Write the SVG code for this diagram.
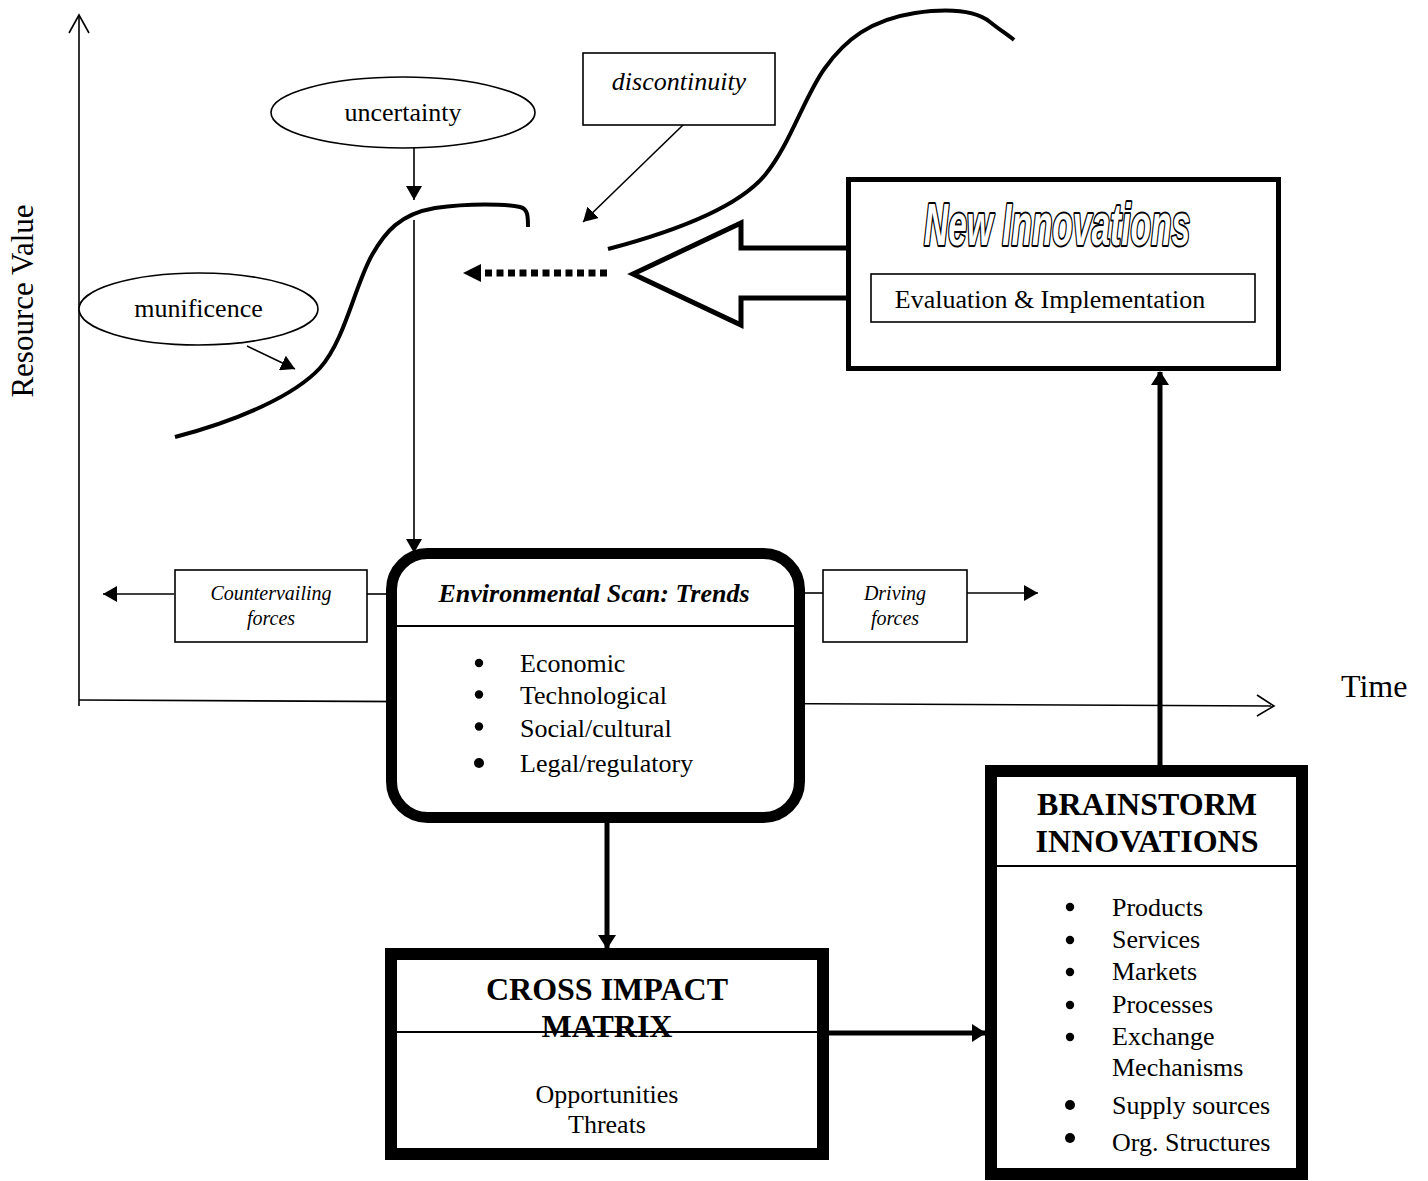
<svg xmlns="http://www.w3.org/2000/svg" width="1428" height="1181" viewBox="0 0 1428 1181">
<defs>
<style>
text{font-family:"Liberation Serif","Times New Roman",serif;fill:#000}
.t26{font-size:26px}
.t20{font-size:20px;font-style:italic}
.tb{font-size:32px;font-weight:bold}
.thin{fill:none;stroke:#000;stroke-width:1.6}
.box{fill:#fff;stroke:#000;stroke-width:1.6}
.heavy{fill:#fff;stroke:#000;stroke-width:12}
.curve{fill:none;stroke:#000;stroke-width:4}
.conn{fill:none;stroke:#000;stroke-width:1.6}
.connT{fill:none;stroke:#000;stroke-width:5}
.div{stroke:#000;stroke-width:2}
.hollow{font-family:"Liberation Sans","DejaVu Sans",sans-serif;font-size:60px;font-weight:bold;font-style:italic;fill:#fff;stroke:#000;stroke-width:4;paint-order:stroke;stroke-linejoin:round}
</style>
<marker id="arr" viewBox="0 0 14 16" markerWidth="14" markerHeight="16" refX="14" refY="8" orient="auto" markerUnits="userSpaceOnUse"><path d="M0,0 L14,8 L0,16 z" fill="#000"/></marker>
<marker id="arrT" viewBox="0 0 14 18" markerWidth="14" markerHeight="18" refX="13" refY="9" orient="auto" markerUnits="userSpaceOnUse"><path d="M0,0 L14,9 L0,18 z" fill="#000"/></marker>
</defs>

<g id="axes">
<line x1="79" y1="16" x2="79" y2="706" class="thin"/>
<polyline points="69,33 79,15 89,33" class="thin"/>
<line x1="79" y1="700" x2="1273" y2="706" class="thin"/>
<polyline points="1257,695 1274,706 1257,716" class="thin"/>
<text id="ylabel" style="font-size:31px" transform="translate(33,301) rotate(-90)" text-anchor="middle">Resource Value</text>
<text id="xlabel" style="font-size:32px" x="1341" y="697">Time</text>
</g>

<g id="curves">
<path class="curve" d="M175,437 C240,420 295,395 320,368 C345,340 355,285 372,255 C385,232 400,214 435,208 C470,203 505,204 520,207 C528,209 528,216 528,227"/>
<path class="curve" d="M608,249 C680,230 740,205 765,175 C790,145 805,95 825,68 C845,40 870,20 915,13 C950,8 975,10 990,22 C1000,30 1008,35 1014,40"/>
</g>

<g id="uncertainty">
<ellipse cx="403" cy="112.5" rx="132" ry="35.5" class="box"/>
<text class="t26" x="403" y="121" text-anchor="middle">uncertainty</text>
</g>

<g id="munificence">
<ellipse cx="198.5" cy="309" rx="119.5" ry="36" class="box"/>
<text class="t26" x="198.5" y="317" text-anchor="middle">munificence</text>
</g>

<g id="discontinuity">
<rect x="583" y="53" width="192" height="72" class="box"/>
<text class="t26" style="font-style:italic" x="679" y="90" text-anchor="middle">discontinuity</text>
</g>

<g id="new-innovations">
<path d="M846,248 L741,248 L741,223 L633,274 L741,325 L741,298 L846,298" fill="#fff" stroke="#000" stroke-width="5"/>
<rect x="848.5" y="179.5" width="430" height="189" fill="#fff" stroke="#000" stroke-width="5"/>
<text class="hollow" x="1057" y="245" text-anchor="middle" textLength="266" lengthAdjust="spacingAndGlyphs">New Innovations</text>
<rect x="871" y="274" width="384" height="48" class="box"/>
<text class="t26" x="1050" y="308" text-anchor="middle">Evaluation &amp; Implementation</text>
</g>

<g id="countervailing">
<rect x="175" y="570" width="192" height="72" class="box"/>
<text class="t20" x="271" y="600" text-anchor="middle">Countervailing</text>
<text class="t20" x="271" y="625" text-anchor="middle">forces</text>
</g>

<g id="driving">
<rect x="823" y="570" width="144" height="72" class="box"/>
<text class="t20" x="895" y="600" text-anchor="middle">Driving</text>
<text class="t20" x="895" y="625" text-anchor="middle">forces</text>
</g>

<g id="env-scan">
<rect x="391.5" y="553.5" width="408" height="264" rx="36" ry="36" fill="#fff" stroke="#000" stroke-width="11"/>
<line x1="397" y1="626" x2="794" y2="626" class="div"/>
<text class="t26" style="font-weight:bold;font-style:italic" x="594" y="602" text-anchor="middle">Environmental Scan: Trends</text>
<circle cx="479" cy="663" r="4.2"/>
<circle cx="479" cy="694.5" r="4.2"/>
<circle cx="479" cy="726.5" r="4.2"/>
<circle cx="479" cy="763" r="5"/>
<text class="t26" x="520" y="672">Economic</text>
<text class="t26" x="520" y="704">Technological</text>
<text class="t26" x="520" y="737">Social/cultural</text>
<text class="t26" x="520" y="772">Legal/regulatory</text>
</g>

<g id="cross-impact">
<rect x="391" y="954" width="432" height="200" class="heavy"/>
<line x1="397" y1="1032" x2="817" y2="1032" class="div"/>
<text class="tb" x="607" y="1000" text-anchor="middle">CROSS IMPACT</text>
<text class="tb" x="607" y="1037" text-anchor="middle">MATRIX</text>
<text class="t26" x="607" y="1103" text-anchor="middle">Opportunities</text>
<text class="t26" x="607" y="1133" text-anchor="middle">Threats</text>
</g>

<g id="brainstorm">
<rect x="991" y="771" width="311" height="403" class="heavy"/>
<line x1="997" y1="866" x2="1296" y2="866" class="div"/>
<text class="tb" x="1147" y="815" text-anchor="middle">BRAINSTORM</text>
<text class="tb" x="1147" y="852" text-anchor="middle">INNOVATIONS</text>
<circle cx="1070" cy="907" r="4.2"/>
<circle cx="1070" cy="940" r="4.2"/>
<circle cx="1070" cy="972" r="4.2"/>
<circle cx="1070" cy="1005" r="4.2"/>
<circle cx="1070" cy="1037" r="4.2"/>
<circle cx="1070" cy="1105" r="5"/>
<circle cx="1070" cy="1138" r="5"/>
<text class="t26" x="1112" y="916">Products</text>
<text class="t26" x="1112" y="948">Services</text>
<text class="t26" x="1112" y="980">Markets</text>
<text class="t26" x="1112" y="1013">Processes</text>
<text class="t26" x="1112" y="1045">Exchange</text>
<text class="t26" x="1112" y="1076">Mechanisms</text>
<text class="t26" x="1112" y="1114">Supply sources</text>
<text class="t26" x="1112" y="1151">Org. Structures</text>
</g>

<g id="connectors">
<line x1="414" y1="148" x2="414" y2="200" class="conn" marker-end="url(#arr)"/>
<line x1="414" y1="220" x2="414" y2="553" class="conn" marker-end="url(#arr)"/>
<line x1="247" y1="346" x2="295" y2="369" class="conn" marker-end="url(#arr)"/>
<line x1="683" y1="125" x2="583" y2="222" class="conn" marker-end="url(#arr)"/>
<line x1="607" y1="273" x2="481" y2="273" fill="none" stroke="#000" stroke-width="7" stroke-dasharray="7 4.5"/>
<polygon points="463,273 481,264 481,282" fill="#000"/>
<line x1="174" y1="594" x2="103" y2="594" class="conn" marker-end="url(#arr)"/>
<line x1="367" y1="594" x2="386" y2="594" class="conn"/>
<line x1="805" y1="593" x2="823" y2="593" class="conn"/>
<line x1="967" y1="593" x2="1038" y2="593" class="conn" marker-end="url(#arr)"/>
<line x1="607" y1="823" x2="607" y2="948" class="connT" marker-end="url(#arrT)"/>
<line x1="829" y1="1033" x2="985" y2="1033" class="connT" marker-end="url(#arrT)"/>
<line x1="1160" y1="765" x2="1160" y2="372" class="connT" marker-end="url(#arrT)"/>
</g>
</svg>
